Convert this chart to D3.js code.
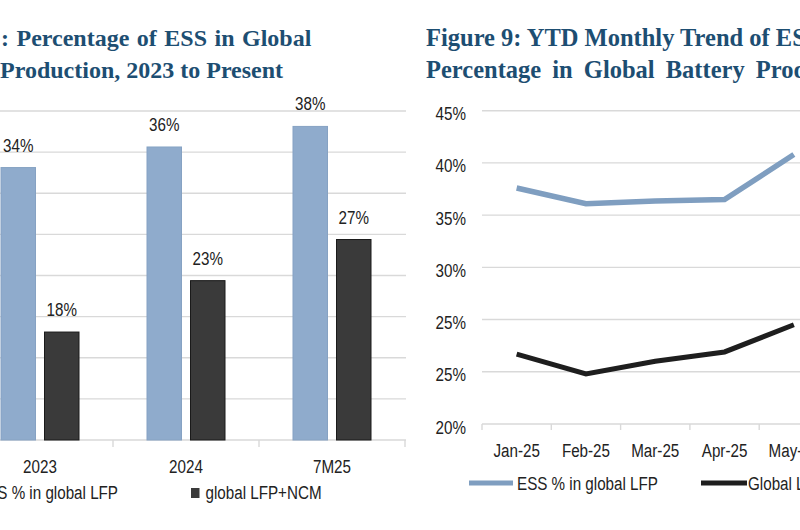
<!DOCTYPE html>
<html>
<head>
<meta charset="utf-8">
<script src="https://cdn.jsdelivr.net/npm/d3@7"></script>
<style>
  html, body { margin: 0; padding: 0; background: #ffffff; }
  svg { display: block; }
  .lbl { font-family: 'Liberation Sans', Arial, sans-serif; fill: #222; }
  .ttl { font-family: 'Liberation Serif', 'Times New Roman', serif; font-weight: bold; fill: #1d4e72; }
</style>
</head>
<body>
<svg id="chart" width="800" height="530"></svg>
<script>
// ---------- data ----------
const titleLeft = [": Percentage of ESS in Global", "Production, 2023 to Present"];
const titleRight = ["Figure 9: YTD Monthly Trend of ESS", "Percentage in Global Battery Production"];

const yearCats = ["2023", "2024", "7M25"];
const essShareLFP = [34, 36, 38];
const essShareTotal = [18, 23, 27];
const barSeries = ["ESS % in global LFP", "global LFP+NCM"];

const months = ["Jan-25", "Feb-25", "Mar-25", "Apr-25", "May-25"];
const essMonthlyLFP = [37.6, 36.1, 36.35, 36.5, 40.8];
const essMonthlyTotal = [21.7, 19.8, 21.0, 21.9, 24.5];
const lineSeries = ["ESS % in global LFP", "Global LFP+NCM"];
const yTickValsR = [15, 20, 25, 30, 35, 40, 45];
const yTickLabelsR = ["20%", "25%", "25%", "30%", "35%", "40%", "45%"];

const colBlue = "#8fabcc";
const colDark = "#3a3a3a";
const colLineBlue = "#7f9ec0";
const colLineDark = "#1e1e1e";
const gridCol = "#d9d9d9";
const NARROW = 0.8;   // horizontal squeeze to mimic a narrow sans face
const FS = 19;

const svg = d3.select("#chart");
svg.append("rect").attr("width", 800).attr("height", 530).attr("fill", "#ffffff");

function narrowText(sel, x, y, anchor) {
  return sel.attr("class", "lbl").attr("font-size", FS)
    .attr("x", 0).attr("y", 0)
    .attr("text-anchor", anchor || "start")
    .attr("transform", (d, i) => {
      const xx = typeof x === "function" ? x(d, i) : x;
      const yy = typeof y === "function" ? y(d, i) : y;
      return `translate(${xx},${yy}) scale(${NARROW},1)`;
    });
}

// ---------- titles ----------
const tL = svg.append("g");
tL.selectAll("text").data(titleLeft).join("text")
  .attr("class", "ttl").attr("font-size", 24)
  .attr("x", (d, i) => i === 0 ? 1 : 0)
  .attr("y", (d, i) => 46 + i * 32)
  .attr("word-spacing", (d, i) => i === 0 ? 1.5 : 0)
  .text(d => d);
const tR = svg.append("g");
tR.selectAll("text").data(titleRight).join("text")
  .attr("class", "ttl").attr("font-size", 24.5)
  .attr("x", 426)
  .attr("y", (d, i) => 46 + i * 32)
  .attr("word-spacing", (d, i) => i === 0 ? 0 : 5)
  .text(d => d);

// ---------- left: bar chart ----------
const xL = d3.scaleBand().domain(yearCats).range([-33, 405]).padding(0);
const xSub = d3.scaleBand().domain(barSeries).range([34, 112]).paddingInner(0.207).paddingOuter(0);
const yL = d3.scaleLinear().domain([7.5, 39.5]).range([440, 111]);
const gridL = d3.range(7.5, 39.6, 4);

const gL = svg.append("g");
gL.selectAll("line.grid").data(gridL).join("line")
  .attr("class", "grid")
  .attr("x1", -5).attr("x2", 406)
  .attr("y1", d => yL(d)).attr("y2", d => yL(d))
  .attr("stroke", gridCol).attr("stroke-width", 1.4);

// x axis
const axL = gL.append("g").attr("transform", `translate(0,${yL(7.5)})`)
  .call(d3.axisBottom(xL).tickSize(0).tickPadding(0));
axL.select(".domain").remove();
axL.selectAll("text").attr("class", "lbl").attr("font-size", FS)
  .attr("dy", 0).attr("y", 0).attr("fill", "#222")
  .attr("transform", `translate(0,33) scale(${NARROW},1)`);
// boundary ticks
gL.selectAll("line.bt").data(yearCats).join("line")
  .attr("class", "bt")
  .attr("x1", d => xL(d) + xL.step())
  .attr("x2", d => xL(d) + xL.step())
  .attr("y1", yL(7.5)).attr("y2", yL(7.5) + 7)
  .attr("stroke", gridCol).attr("stroke-width", 1.4);

const barData = [];
yearCats.forEach((c, i) => {
  barData.push({ cat: c, s: barSeries[0], v: essShareLFP[i] });
  barData.push({ cat: c, s: barSeries[1], v: essShareTotal[i] });
});
gL.selectAll("rect.bar").data(barData).join("rect")
  .attr("class", "bar")
  .attr("x", d => xL(d.cat) + xSub(d.s))
  .attr("width", xSub.bandwidth())
  .attr("y", d => yL(d.v))
  .attr("height", d => yL(7.5) - yL(d.v))
  .attr("fill", d => d.s === barSeries[0] ? colBlue : colDark)
  .attr("stroke", d => d.s === barSeries[0] ? "#86a2c3" : "#1a1a1a")
  .attr("stroke-width", 1);
narrowText(gL.selectAll("text.val").data(barData).join("text"),
  d => xL(d.cat) + xSub(d.s) + xSub.bandwidth() / 2,
  d => yL(d.v) - 16, "middle")
  .text(d => d.v + "%");

// left legend
const legL = gL.append("g");
legL.append("rect").attr("x", -40).attr("y", 488).attr("width", 9).attr("height", 10).attr("fill", colBlue);
narrowText(legL.append("text"), 118, 499, "end").text(barSeries[0]);
legL.append("rect").attr("x", 191).attr("y", 488).attr("width", 8.5).attr("height", 10).attr("fill", colDark);
narrowText(legL.append("text"), 205.5, 499, "start").text(barSeries[1]);

// ---------- right: line chart ----------
const xR = d3.scaleBand().domain(months).range([482, 482 + 5 * 69.3]).padding(0);
const yR = d3.scaleLinear().domain([15, 45]).range([424, 110.7]);
const gR = svg.append("g");

gR.selectAll("line.grid").data(yTickValsR.slice(1)).join("line")
  .attr("class", "grid")
  .attr("x1", 482).attr("x2", 805)
  .attr("y1", d => yR(d)).attr("y2", d => yR(d))
  .attr("stroke", gridCol).attr("stroke-width", 1.4);

const ayR = gR.append("g").attr("transform", "translate(466,0)")
  .call(d3.axisLeft(yR).tickValues(yTickValsR).tickSize(0).tickPadding(0)
    .tickFormat((d, i) => yTickLabelsR[i]));
ayR.select(".domain").remove();
ayR.selectAll("text").attr("class", "lbl").attr("font-size", FS).attr("fill", "#222")
  .attr("dy", 0).attr("x", 0).attr("y", 0)
  .attr("transform", `translate(0,9) scale(${NARROW},1)`);

const axR = gR.append("g").attr("transform", `translate(0,${yR(15)})`)
  .call(d3.axisBottom(xR).tickSize(0).tickPadding(0));
axR.select(".domain").attr("stroke", gridCol).attr("stroke-width", 1.4)
  .attr("d", `M482,0H805`);
axR.selectAll("text").attr("class", "lbl").attr("font-size", FS).attr("fill", "#222")
  .attr("dy", 0).attr("y", 0)
  .attr("transform", `translate(0,33) scale(${NARROW},1)`);
gR.selectAll("line.bt").data(months).join("line")
  .attr("class", "bt")
  .attr("x1", d => xR(d)).attr("x2", d => xR(d))
  .attr("y1", yR(15)).attr("y2", yR(15) + 6)
  .attr("stroke", gridCol).attr("stroke-width", 1.4);

const lineGen = d3.line()
  .x((d, i) => xR(months[i]) + xR.bandwidth() / 2)
  .y(d => yR(d));
gR.append("path").datum(essMonthlyLFP)
  .attr("d", lineGen).attr("fill", "none")
  .attr("stroke", colLineBlue).attr("stroke-width", 5.5);
gR.append("path").datum(essMonthlyTotal)
  .attr("d", lineGen).attr("fill", "none")
  .attr("stroke", colLineDark).attr("stroke-width", 5);

// right legend
const legR = gR.append("g");
legR.append("line").attr("x1", 469).attr("x2", 513).attr("y1", 483).attr("y2", 483)
  .attr("stroke", colLineBlue).attr("stroke-width", 5);
narrowText(legR.append("text"), 517, 490, "start").text(lineSeries[0]);
legR.append("line").attr("x1", 701).attr("x2", 747).attr("y1", 483).attr("y2", 483)
  .attr("stroke", colLineDark).attr("stroke-width", 5);
narrowText(legR.append("text"), 748, 490, "start").text(lineSeries[1]);
</script>
</body>
</html>
